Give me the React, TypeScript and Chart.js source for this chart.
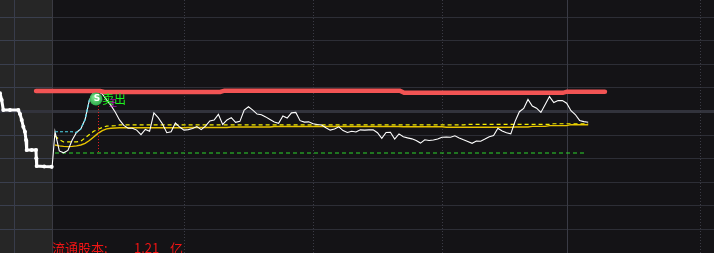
import React, { useEffect, useRef } from "react";
import { Chart, registerables } from "chart.js";

Chart.register(...registerables);

// ---- data (x = minute index since 9:30, y = % change vs previous close) ----
const priceValues = [
  -0.88, -1.69, -1.77, -1.67, -1.23, -0.91, -0.76, -0.36, 0.47, 0.78,
  0.83, 0.72, 0.47, 0.24, -0.04, -0.38, -0.61, -0.73, -0.73, -0.81,
  -1.0, -0.78, -0.86, -0.08, -0.28, -0.55, -0.92, -0.88, -0.51, -0.68,
  -0.81, -0.79, -0.74, -0.66, -0.79, -0.64, -0.42, -0.38, -0.14, -0.57,
  -0.38, -0.28, -0.48, -0.44, 0.04, 0.18, 0.04, -0.13, -0.16, -0.25,
  -0.36, -0.47, -0.52, -0.21, -0.3, -0.08, -0.06, -0.41, -0.47, -0.46,
  -0.54, -0.57, -0.59, -0.71, -0.81, -0.76, -0.67, -0.83, -0.91, -0.86,
  -0.89, -0.8, -0.81, -0.8, -0.8, -0.92, -1.16, -0.91, -0.9, -1.19,
  -0.97, -1.09, -1.14, -1.18, -1.25, -1.36, -1.22, -1.25, -1.23, -1.19,
  -1.11, -1.1, -1.11, -1.05, -1.14, -1.22, -1.29, -1.37, -1.27, -1.28,
  -1.19, -1.09, -1.04, -0.73, -0.85, -0.92, -0.97, -0.44, -0.03, 0.11,
  0.49, 0.21, 0.12, -0.06, 0.28, 0.61, 0.36, 0.44, 0.44, 0.33,
  0.01, -0.15, -0.4, -0.45, -0.48,
];

const avgValues = [
  -1.44, -1.48, -1.5, -1.51, -1.5, -1.48, -1.44, -1.37, -1.25, -1.1,
  -0.95, -0.83, -0.76, -0.73, -0.72, -0.71, -0.71, -0.71, -0.71, -0.71,
  -0.71, -0.71, -0.71, -0.71, -0.71, -0.71, -0.71, -0.71, -0.71, -0.71,
  -0.71, -0.7, -0.7, -0.7, -0.7, -0.7, -0.7, -0.7, -0.7, -0.7,
  -0.7, -0.68, -0.68, -0.68, -0.68, -0.68, -0.68, -0.68, -0.68, -0.68,
  -0.68, -0.66, -0.66, -0.66, -0.66, -0.66, -0.66, -0.66, -0.66, -0.66,
  -0.66, -0.66, -0.66, -0.66, -0.66, -0.66, -0.66, -0.66, -0.66, -0.66,
  -0.66, -0.66, -0.66, -0.66, -0.66, -0.66, -0.66, -0.66, -0.66, -0.66,
  -0.66, -0.67, -0.67, -0.67, -0.67, -0.67, -0.67, -0.67, -0.67, -0.67,
  -0.67, -0.69, -0.69, -0.69, -0.69, -0.69, -0.69, -0.69, -0.69, -0.69,
  -0.69, -0.69, -0.69, -0.69, -0.69, -0.69, -0.69, -0.68, -0.68, -0.68,
  -0.68, -0.65, -0.65, -0.65, -0.65, -0.62, -0.62, -0.62, -0.62, -0.62,
  -0.58, -0.58, -0.58, -0.58, -0.58,
];

const maValues = [
  -1.06, -1.21, -1.31, -1.31, -1.31, -1.31, -1.28, -1.14, -1.0, -0.86,
  -0.78, -0.7, -0.64, -0.63, -0.62, -0.59, -0.59, -0.59, -0.59, -0.59,
  -0.59, -0.59, -0.59, -0.59, -0.59, -0.59, -0.59, -0.59, -0.59, -0.59,
  -0.59, -0.59, -0.59, -0.59, -0.59, -0.59, -0.59, -0.59, -0.59, -0.59,
  -0.59, -0.59, -0.59, -0.59, -0.59, -0.59, -0.59, -0.59, -0.59, -0.59,
  -0.59, -0.59, -0.59, -0.59, -0.59, -0.59, -0.59, -0.59, -0.59, -0.59,
  -0.59, -0.59, -0.59, -0.59, -0.59, -0.59, -0.59, -0.59, -0.59, -0.59,
  -0.59, -0.59, -0.59, -0.59, -0.59, -0.59, -0.59, -0.59, -0.59, -0.59,
  -0.59, -0.59, -0.59, -0.59, -0.59, -0.59, -0.59, -0.59, -0.59, -0.59,
  -0.59, -0.59, -0.59, -0.59, -0.59, -0.59, -0.57, -0.57, -0.57, -0.57,
  -0.57, -0.57, -0.57, -0.57, -0.57, -0.57, -0.57, -0.57, -0.57, -0.57,
  -0.57, -0.57, -0.57, -0.57, -0.57, -0.57, -0.54, -0.54, -0.54, -0.54,
  -0.54, -0.54, -0.54, -0.54, -0.54,
];

// opening call auction (pre-market) trace
const preTimes = [-12.79, -12.4, -12.02, -10.47, -8.53, -8.14, -7.74, -7.37, -6.98, -6.74, -6.58, -5.4, -4.42, -4.35, -4.26, -2.5, -0.77];
const preValues = [0.75, 0.47, 0.04, 0.04, 0.04, -0.13, -0.38, -0.67, -0.88, -1.23, -1.65, -1.65, -1.65, -2.0, -2.33, -2.35, -2.36];
const openTime = -0.7;
const openValue = -2.45;

// resistance (red) level
const redTimes = [-4.4, 10.5, 11.5, 38.4, 39.4, 80.2, 81.2, 118.1, 119.1, 127.9];
const redValues = [0.85, 0.85, 0.81, 0.81, 0.86, 0.86, 0.77, 0.77, 0.82, 0.82];

// support (green) level
const supportValue = -1.78;
const supportStart = 0;
const supportEnd = 123.3;

// cyan rising segment
const cyanTimes = [0, 1, 2, 3, 4, 5, 6, 7, 8, 9];
const cyanValues = [-0.88, -0.88, -0.88, -0.88, -0.88, -0.91, -0.76, -0.36, 0.47, 0.78];

// sell signal
const signalTime = 10;
const signalValue = 0.51;
const signalText = "卖出";
const signalIcon = "S";

// grid
const priceGrid = [-5, -4, -3, -2, -1, 0, 1, 2, 3, 4];
const timeGrid = [30, 60, 90, 150];
const middayBreak = 119;
const auctionDivider = -9.5;

// axis ranges
const xMin = -12.79;
const xMax = 153.26;
const yMin = -6.017;
const yMax = 4.703;

// footer
const footerLabel = "流通股本:";
const footerValue = "1.21";
const footerUnit = "亿";

const W = 714;
const H = 253;

const idx = priceValues.map((_, i) => i);

const backgroundPlugin = {
  id: "bg",
  beforeDraw(chart: any) {
    const { ctx } = chart;
    const x = chart.scales.x;
    const y = chart.scales.y;
    const panelEdge = Math.round(x.getPixelForValue(openTime));
    ctx.save();
    ctx.fillStyle = "#141316";
    ctx.fillRect(0, 0, W, H);
    ctx.fillStyle = "#262626";
    ctx.fillRect(0, 0, panelEdge, H);

    // horizontal grid
    for (const v of priceGrid) {
      const py = Math.round(y.getPixelForValue(v));
      if (v === 0) {
        ctx.fillStyle = "#32333c";
        ctx.fillRect(0, py - 1, W, 3);
      } else {
        ctx.fillStyle = "#3a3f4e";
        ctx.fillRect(0, py, panelEdge, 1);
        ctx.fillStyle = "#2d2e36";
        ctx.fillRect(panelEdge, py, W - panelEdge, 1);
      }
    }
    // panel lines
    ctx.fillStyle = "#383c4a";
    ctx.fillRect(Math.round(x.getPixelForValue(auctionDivider)), 0, 1, H);
    ctx.fillStyle = "#3a3a42";
    ctx.fillRect(panelEdge, 0, 1, H);

    // dotted time grid
    ctx.strokeStyle = "#3b3b45";
    ctx.lineWidth = 1;
    ctx.setLineDash([1, 2]);
    for (const t of timeGrid) {
      const px = Math.round(x.getPixelForValue(t)) + 0.5;
      ctx.beginPath();
      ctx.moveTo(px, 0);
      ctx.lineTo(px, H);
      ctx.stroke();
    }
    ctx.setLineDash([]);
    ctx.fillStyle = "#3a3b45";
    ctx.fillRect(Math.round(x.getPixelForValue(middayBreak)), 0, 1, H);
    ctx.restore();
  },
};

const overlayPlugin = {
  id: "overlay",
  afterDatasetsDraw(chart: any) {
    const { ctx } = chart;
    const x = chart.scales.x;
    const y = chart.scales.y;
    ctx.save();
    // red dotted drop line
    const sx = Math.round(x.getPixelForValue(signalTime)) + 0.5;
    ctx.strokeStyle = "#ee2222";
    ctx.lineWidth = 1;
    ctx.setLineDash([1, 2]);
    ctx.beginPath();
    ctx.moveTo(sx, y.getPixelForValue(signalValue + 0.08));
    ctx.lineTo(sx, y.getPixelForValue(supportValue));
    ctx.stroke();
    ctx.setLineDash([]);

    // signal marker
    const cx = x.getPixelForValue(signalTime) - 2;
    const cy = y.getPixelForValue(signalValue);
    const g = ctx.createRadialGradient(cx - 2, cy - 2, 1, cx, cy, 7);
    g.addColorStop(0, "#7be08d");
    g.addColorStop(1, "#27a844");
    ctx.fillStyle = g;
    ctx.beginPath();
    ctx.arc(cx, cy, 6.5, 0, Math.PI * 2);
    ctx.fill();
    ctx.fillStyle = "#ffffff";
    ctx.font = "bold 9px 'DejaVu Sans'";
    ctx.textAlign = "center";
    ctx.textBaseline = "middle";
    ctx.fillText(signalIcon, cx + 1, cy);
    ctx.textAlign = "left";
    ctx.fillStyle = "#1ef01e";
    ctx.font = "12px 'Noto Sans CJK SC'";
    ctx.fillText(signalText, cx + 6, cy);
    ctx.fillStyle = "#e020e0";
    ctx.font = "8px 'Noto Sans CJK SC'";
    ctx.fillText("王", cx + 13, cy + 4);

    // footer
    ctx.fillStyle = "#f01414";
    ctx.font = "13px 'Noto Sans CJK SC'";
    ctx.textBaseline = "top";
    ctx.fillText(footerLabel, 52, 242);
    ctx.fillText(footerValue, 134, 242);
    ctx.fillText(footerUnit, 170, 242);
    ctx.restore();
  },
};

export default function App() {
  const ref = useRef<HTMLCanvasElement | null>(null);

  useEffect(() => {
    document.body.style.margin = "0";
    const canvas = ref.current;
    if (!canvas) return;
    const chart = new Chart(canvas, {
      type: "line",
      data: {
        datasets: [
          {
            label: "支撑",
            data: [
              { x: supportStart, y: supportValue },
              { x: supportEnd, y: supportValue },
            ],
            borderColor: "#2bd62b",
            borderWidth: 1,
            borderDash: [4, 3],
            pointRadius: 0,
            order: 9,
          },
          {
            label: "均价",
            data: idx.map((i) => ({ x: i, y: avgValues[i] })),
            borderColor: "#e8c400",
            borderWidth: 1.4,
            pointRadius: 0,
            order: 8,
          },
          {
            label: "均线",
            data: idx.map((i) => ({ x: i, y: maValues[i] })),
            borderColor: "#f5f000",
            borderWidth: 1.2,
            borderDash: [4, 3],
            pointRadius: 0,
            order: 7,
          },
          {
            label: "价格",
            data: [{ x: openTime, y: openValue }].concat(
              idx.map((i) => ({ x: i, y: priceValues[i] }))
            ),
            borderColor: "#ffffff",
            borderWidth: 1.1,
            pointRadius: 0,
            order: 5,
          },
          {
            label: "cyan",
            data: cyanTimes.map((t, i) => ({ x: t, y: cyanValues[i] })),
            borderColor: "#4fd6ea",
            borderWidth: 1.2,
            borderDash: [3, 2],
            pointRadius: 0,
            order: 4,
          },
          {
            label: "压力",
            data: redTimes.map((t, i) => ({ x: t, y: redValues[i] })),
            borderColor: "#f25454",
            borderWidth: 4.5,
            borderCapStyle: "round",
            pointRadius: 0,
            order: 3,
          },
          {
            label: "集合竞价",
            data: preTimes.map((t, i) => ({ x: t, y: preValues[i] })),
            borderColor: "#ffffff",
            borderWidth: 3,
            pointRadius: 2,
            pointBackgroundColor: "#ffffff",
            pointBorderWidth: 0,
            order: 2,
          },
        ],
      },
      options: {
        responsive: false,
        animation: false,
        events: [],
        layout: { padding: 0, autoPadding: false },
        elements: { line: { tension: 0 } },
        plugins: {
          legend: { display: false },
          tooltip: { enabled: false },
          title: { display: false },
        },
        scales: {
          x: { type: "linear", min: xMin, max: xMax, display: false },
          y: { type: "linear", min: yMin, max: yMax, display: false },
        },
      },
      plugins: [backgroundPlugin, overlayPlugin],
    } as any);
    return () => chart.destroy();
  }, []);

  return (
    <div style={{ position: "fixed", left: 0, top: 0, width: W, height: H, background: "#141316" }}>
      <canvas ref={ref} width={W} height={H} style={{ display: "block", width: W, height: H }} />
    </div>
  );
}
